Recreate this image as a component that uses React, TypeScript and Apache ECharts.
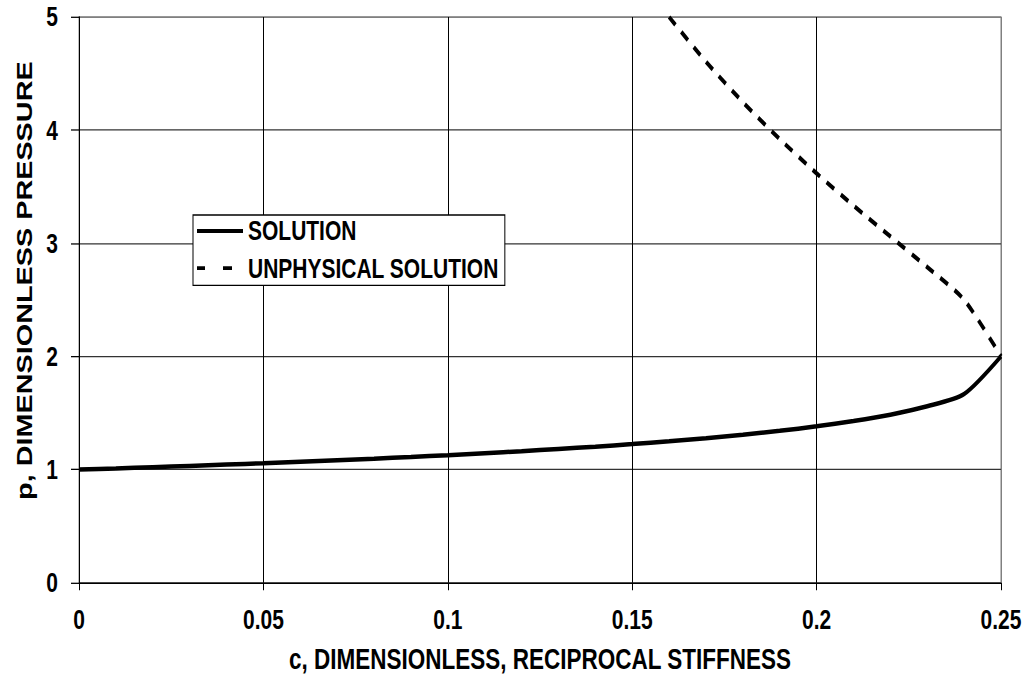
import React, { useEffect, useRef } from "react";
import * as echarts from "echarts";

const cTicks = [0, 0.05, 0.1, 0.15, 0.2, 0.25];
const pTicks = [0, 1, 2, 3, 4, 5];

const solutionC = [0, 0.01, 0.02, 0.03, 0.04, 0.05, 0.06, 0.07, 0.08, 0.09, 0.1, 0.11, 0.12, 0.13, 0.14, 0.15, 0.16, 0.17, 0.18, 0.19, 0.2, 0.21, 0.22, 0.23, 0.24, 0.25];
const solutionP = [1.0, 1.01, 1.021, 1.032, 1.044, 1.056, 1.069, 1.082, 1.096, 1.111, 1.127, 1.144, 1.162, 1.182, 1.202, 1.225, 1.25, 1.277, 1.308, 1.342, 1.382, 1.429, 1.485, 1.559, 1.667, 2.0];

const unphysicalC = [0.16, 0.17, 0.18, 0.19, 0.2, 0.21, 0.22, 0.23, 0.24, 0.25];
const unphysicalP = [5.0, 4.605, 4.248, 3.921, 3.618, 3.333, 3.06, 2.789, 2.5, 2.0];

const seriesNames = ["SOLUTION", "UNPHYSICAL SOLUTION"];
const xTitle = "c, DIMENSIONLESS, RECIPROCAL STIFFNESS";
const yTitle = "p, DIMENSIONLESS PRESSURE";

const FONT = "'Liberation Sans', Arial, sans-serif";

// The reference picture is stretched vertically relative to its text widths;
// the chart is drawn at a reduced height and stretched by CSS to 680px.
const W = 1028;
const H = 531;
const SY = 680 / H;

export default function App() {
  const ref = useRef<HTMLDivElement>(null);
  useEffect(() => {
    if (!ref.current) return;
    const chart = echarts.init(ref.current, undefined, { renderer: "svg" });
    const solData = solutionC.map((c, i) => [c, solutionP[i]]);
    const unData = unphysicalC.map((c, i) => [c, unphysicalP[i]]);
    chart.setOption({
      animation: false,
      backgroundColor: "#ffffff",
      textStyle: { fontFamily: FONT },
      grid: {
        left: 79,
        top: 17 / SY,
        width: 922,
        height: 570 / SY,
        show: true,
        borderColor: "#808080",
        borderWidth: 1,
        backgroundColor: "transparent",
      },
      legend: {
        orient: "vertical",
        left: 193,
        top: 215 / SY,
        backgroundColor: "#ffffff",
        borderColor: "#000000",
        borderWidth: 1,
        borderRadius: 0,
        padding: [2, 6, 3, 4],
        itemWidth: 46,
        itemHeight: 3,
        itemGap: 8,
        symbolKeepAspect: false,
        itemStyle: { borderWidth: 0, color: "#000" },
        textStyle: { fontFamily: FONT, fontWeight: "bold", fontSize: 21, color: "#000" },
        data: [
          { name: seriesNames[0], icon: "path://M0,0H46V3H0Z" },
          { name: seriesNames[1], icon: "path://M0,0H8V3H0Z M26,0H35V3H26Z M45.9,1.4H46V1.6H45.9Z" },
        ],
      },
      xAxis: {
        type: "value",
        min: cTicks[0],
        max: cTicks[cTicks.length - 1],
        interval: 0.05,
        name: xTitle,
        nameLocation: "middle",
        nameGap: 48,
        nameTextStyle: { fontFamily: FONT, fontWeight: "bold", fontSize: 22.5, color: "#000" },
        axisLine: { show: true, onZero: false, lineStyle: { color: "#000", width: 1 } },
        axisTick: { show: true, inside: false, length: 6, lineStyle: { color: "#000" } },
        axisLabel: {
          margin: 18,
          fontFamily: FONT,
          fontWeight: "bold",
          fontSize: 21,
          color: "#000",
          formatter: (v: number) => String(cTicks.find((t) => Math.abs(t - v) < 1e-9) ?? v),
        },
        splitLine: {
          show: true,
          lineStyle: { color: ["#000", "#000", "#000", "#000", "#000", "#808080"], width: 1 },
        },
      },
      yAxis: {
        type: "value",
        min: pTicks[0],
        max: pTicks[pTicks.length - 1],
        interval: 1,
        name: yTitle,
        nameLocation: "middle",
        nameGap: 35,
        nameRotate: 90,
        nameTextStyle: {
          fontFamily: FONT,
          fontWeight: "bold",
          fontSize: 22.5,
          color: "#000",
          padding: [0, 0, 0, 30],
        },
        axisLine: { show: true, onZero: false, lineStyle: { color: "#000", width: 1 } },
        axisTick: { show: true, inside: false, length: 8, lineStyle: { color: "#000" } },
        axisLabel: {
          margin: 21,
          fontFamily: FONT,
          fontWeight: "bold",
          fontSize: 21,
          color: "#000",
        },
        splitLine: {
          show: true,
          lineStyle: { color: ["#000", "#333", "#333", "#333", "#333", "#808080"], width: 1 },
        },
      },
      series: [
        {
          name: seriesNames[0],
          type: "line",
          data: solData,
          symbol: "none",
          smooth: 0.25,
          lineStyle: { color: "#000", width: 3.5 },
          itemStyle: { color: "#000" },
          z: 3,
        },
        {
          name: seriesNames[1],
          type: "line",
          data: unData,
          symbol: "none",
          smooth: 0.25,
          lineStyle: { color: "#000", width: 3.5, type: [9, 8] },
          itemStyle: { color: "#000" },
          z: 2,
        },
      ],
    });
    return () => chart.dispose();
  }, []);
  return (
    <div
      style={{ position: "fixed", left: 0, top: 0, width: W, height: 680, overflow: "hidden", background: "#fff" }}
    >
      <div
        ref={ref}
        style={{
          width: W,
          height: H,
          transform: `scaleY(${SY})`,
          transformOrigin: "0 0",
          background: "#fff",
        }}
      />
    </div>
  );
}
